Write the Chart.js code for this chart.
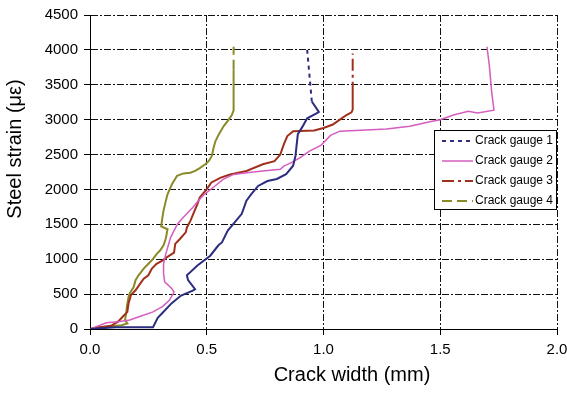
<!DOCTYPE html>
<html>
<head>
<meta charset="utf-8">
<script src="https://cdn.jsdelivr.net/npm/chart.js@4.4.1/dist/chart.umd.min.js"></script>
<style>
  html, body { margin: 0; padding: 0; background: #fff; }
  #caixa { width: 567px; height: 394px; }
</style>
</head>
<body>
<div id="caixa"><canvas id="grafico"></canvas></div>
<script>
// crack width (mm) x steel strain (µε)
const gauge1Width = [0, 0.11, 0.27, 0.29, 0.31, 0.35, 0.39, 0.44, 0.45, 0.42,
  0.415, 0.46, 0.515, 0.55, 0.565, 0.59, 0.615, 0.65, 0.67, 0.69,
  0.72, 0.76, 0.80, 0.84, 0.87, 0.88, 0.885, 0.89, 0.91, 0.93,
  0.97, 0.98, 0.95, 0.93];
const gauge1Strain = [0, 25, 25, 160, 230, 370, 480, 550, 570, 700,
  770, 910, 1050, 1200, 1240, 1410, 1510, 1650, 1840, 1930,
  2050, 2120, 2150, 2220, 2340, 2480, 2640, 2790, 2900, 3020,
  3090, 3110, 3260, 4000];

const gauge2Width = [0, 0.07, 0.12, 0.17, 0.21, 0.27, 0.31, 0.34, 0.36, 0.35,
  0.32, 0.315, 0.315, 0.325, 0.345, 0.36, 0.375, 0.40, 0.44, 0.465,
  0.49, 0.53, 0.57, 0.615, 0.67, 0.74, 0.815, 0.83, 0.86, 0.90,
  0.94, 0.99, 1.03, 1.07, 1.16, 1.27, 1.37, 1.46, 1.50, 1.56,
  1.62, 1.66, 1.73, 1.72, 1.71, 1.70];
const gauge2Strain = [0, 90, 105, 130, 175, 245, 320, 410, 530, 580,
  675, 795, 935, 1080, 1310, 1410, 1505, 1600, 1740, 1840,
  1930, 2035, 2145, 2215, 2240, 2265, 2290, 2335, 2380, 2455,
  2550, 2635, 2775, 2835, 2850, 2865, 2905, 2975, 3000, 3070,
  3120, 3095, 3135, 3405, 3785, 4045];

const gauge3Width = [0, 0.04, 0.09, 0.12, 0.14, 0.16, 0.165, 0.175, 0.195, 0.215,
  0.23, 0.25, 0.265, 0.285, 0.31, 0.33, 0.36, 0.365, 0.385, 0.41,
  0.415, 0.43, 0.445, 0.46, 0.47, 0.50, 0.52, 0.56, 0.60, 0.67,
  0.74, 0.79, 0.815, 0.83, 0.845, 0.87, 0.96, 1.00, 1.04, 1.07,
  1.10, 1.12, 1.125, 1.125, 1.125];
const gauge3Strain = [0, 25, 45, 105, 175, 245, 365, 485, 555, 650,
  720, 770, 865, 935, 980, 1030, 1095, 1220, 1290, 1385,
  1455, 1550, 1670, 1790, 1885, 2005, 2100, 2170, 2215, 2265,
  2360, 2405, 2500, 2645, 2765, 2835, 2845, 2880, 2930, 3000,
  3070, 3105, 3145, 3545, 3950];

const gauge4Width = [0, 0.05, 0.11, 0.135, 0.16, 0.15, 0.155, 0.158, 0.165, 0.17,
  0.187, 0.195, 0.208, 0.23, 0.25, 0.27, 0.287, 0.30, 0.315, 0.325,
  0.332, 0.305, 0.308, 0.315, 0.325, 0.332, 0.351, 0.373, 0.40, 0.43,
  0.45, 0.47, 0.494, 0.508, 0.522, 0.529, 0.537, 0.551, 0.572, 0.594,
  0.608, 0.615, 0.615, 0.615];
const gauge4Strain = [0, 25, 45, 55, 80, 130, 225, 320, 460, 510,
  600, 700, 770, 865, 935, 1005, 1080, 1125, 1200, 1300,
  1430, 1470, 1550, 1700, 1840, 1930, 2075, 2195, 2230, 2240,
  2265, 2305, 2360, 2405, 2480, 2595, 2690, 2785, 2905, 3000,
  3070, 3135, 3715, 4045];

const gaugeNames = ['Crack gauge 1', 'Crack gauge 2', 'Crack gauge 3', 'Crack gauge 4'];
const widthTicks = [0, 0.5, 1, 1.5, 2];
const strainTicks = [0, 500, 1000, 1500, 2000, 2500, 3000, 3500, 4000, 4500];

const fonte = '"Liberation Sans", Arial, sans-serif';
Chart.defaults.font.family = fonte;
Chart.defaults.color = '#000';

const pontos = (xs, ys) => xs.map((x, i) => ({ x: x, y: ys[i] }));

// only the last leg (after the vertical rise) keeps the dash pattern
function serie(nome, xs, ys, cor, largura, traco, offset) {
    const inicio = traco.length ? xs.length - 2 : Infinity;
    return {
        label: nome,
        data: pontos(xs, ys),
        borderColor: cor,
        backgroundColor: cor,
        borderWidth: largura,
        borderDash: traco,
        borderDashOffset: offset || 0,
        pointRadius: 0,
        tension: 0,
        segment: {
            borderDash: ctx => ctx.p0DataIndex >= inicio ? traco : []
        }
    };
}

const titulosEixos = {
    id: 'titulosEixos',
    afterDraw(chart) {
        const { ctx, chartArea } = chart;
        ctx.save();
        ctx.fillStyle = '#000';
        ctx.font = '20px ' + fonte;
        ctx.textAlign = 'center';
        ctx.textBaseline = 'middle';
        ctx.fillText('Crack width (mm)', chartArea.left + 262, chartArea.bottom + 46);
        ctx.translate(15, chartArea.top + 134);
        ctx.rotate(-Math.PI / 2);
        ctx.fillText('Steel strain (με)', 0, 0);
        ctx.restore();
    }
};

const legendaCaixa = {
    id: 'legendaCaixa',
    afterDraw(chart) {
        const { ctx, chartArea } = chart;
        const w = 123, h = 80;
        const x0 = chartArea.right - w, y0 = 130;
        ctx.save();
        ctx.fillStyle = '#fff';
        ctx.fillRect(x0, y0, w, h);
        ctx.strokeStyle = '#000';
        ctx.lineWidth = 1;
        ctx.strokeRect(x0 + 0.5, y0 + 0.5, w - 1, h - 1);
        ctx.font = '12px ' + fonte;
        ctx.textBaseline = 'middle';
        chart.data.datasets.forEach((ds, i) => {
            const cy = y0 + 11 + i * 20;
            ctx.strokeStyle = ds.borderColor;
            ctx.lineWidth = ds.borderWidth;
            ctx.setLineDash(ds.borderDash);
            ctx.beginPath();
            ctx.moveTo(x0 + 8, cy);
            ctx.lineTo(x0 + 39, cy);
            ctx.stroke();
            ctx.fillStyle = '#000';
            ctx.fillText(ds.label, x0 + 41, cy);
        });
        ctx.restore();
    }
};

const gradeEstilo = {
    grid: { color: '#111', lineWidth: 1, tickLength: 6, tickColor: '#000' },
    border: { display: true, color: '#000', width: 1, dash: [7, 2, 2, 2] }
};

new Chart(document.getElementById('grafico').getContext('2d'), {
    type: 'line',
    data: {
        datasets: [
            serie(gaugeNames[0], gauge1Width, gauge1Strain, '#2c2c80', 2, [4, 4]),
            serie(gaugeNames[1], gauge2Width, gauge2Strain, '#d65cc0', 1.5, []),
            serie(gaugeNames[2], gauge3Width, gauge3Strain, '#a0301c', 2, [12, 4, 3, 4], 12),
            serie(gaugeNames[3], gauge4Width, gauge4Strain, '#8a8a28', 2, [10, 5])
        ]
    },
    options: {
        responsive: true,
        maintainAspectRatio: false,
        animation: false,
        layout: { padding: { top: 13, right: 10, left: 0, bottom: 0 } },
        plugins: {
            legend: { display: false },
            tooltip: { enabled: false }
        },
        scales: {
            x: {
                type: 'linear',
                min: 0,
                max: 2,
                ...gradeEstilo,
                ticks: {
                    font: { size: 15 },
                    padding: 6,
                    maxRotation: 0,
                    autoSkip: false,
                    callback: v => v.toFixed(1)
                },
                afterBuildTicks: axis => { axis.ticks = widthTicks.map(v => ({ value: v })); },
                afterFit: axis => { axis.height = 65; axis.paddingLeft = 0; axis.paddingRight = 0; }
            },
            y: {
                type: 'linear',
                min: 0,
                max: 4500,
                ...gradeEstilo,
                ticks: { font: { size: 15 }, padding: 6, callback: v => String(v) },
                afterBuildTicks: axis => { axis.ticks = strainTicks.map(v => ({ value: v })); },
                afterFit: axis => { axis.width = 90; }
            }
        }
    },
    plugins: [titulosEixos, legendaCaixa]
});
</script>
</body>
</html>
